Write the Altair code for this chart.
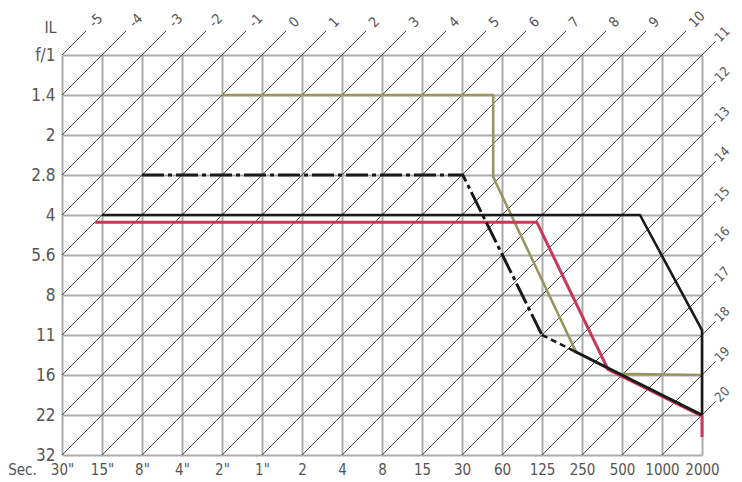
import altair as alt
import pandas as pd

# ---------------- data ----------------
shutter_labels = ['30"', '15"', '8"', '4"', '2"', '1"', '2', '4', '8', '15', '30',
                  '60', '125', '250', '500', '1000', '2000']
f_labels = ['f/1', '1.4', '2', '2.8', '4', '5.6', '8', '11', '16', '22', '32']
ev_values = list(range(-5, 21))

# program lines (x = shutter step index, y = aperture step index)
olive_x = [4, 10.78, 10.78, 12.85, 13.9, 16]
olive_y = [1, 1, 3.05, 7.42, 7.97, 8]
red_x = [0.83, 11.87, 13.65, 16, 16]
red_y = [4.18, 4.18, 7.86, 9.03, 9.55]
black_x = [1, 14.45, 16, 16]
black_y = [4, 4, 6.88, 9]
dashdot_x = [2, 10.02, 12]
dashdot_y = [3, 3, 7]
dashed_x = [12, 12.8]
dashed_y = [7, 7.4]
solid_x = [12.8, 16]
solid_y = [7.4, 9]

N_COLS = len(shutter_labels) - 1
N_ROWS = len(f_labels) - 1

# ---------------- EV diagonal lines ----------------
ev_rows, lab_rows = [], []
for ev in ev_values:
    s = ev + 5
    lx, ly = (0, s) if s <= N_ROWS else (s - N_ROWS, N_ROWS)
    ux, uy = (s, 0) if s <= N_COLS else (N_COLS, s - N_COLS)
    right_side = ux == N_COLS
    ext = 0.34 if right_side else 0.6
    lab = 0.38 if right_side else 0.74
    ev_rows.append({"ev": ev, "i": 0, "x": lx, "y": ly})
    ev_rows.append({"ev": ev, "i": 1, "x": ux + ext, "y": uy - ext})
    lab_rows.append({"ev": ev, "x": ux + lab, "y": uy - lab, "t": str(ev),
                     "fs": 13 if right_side else 14})
ev_df = pd.DataFrame(ev_rows)
lab_df = pd.DataFrame(lab_rows)


def path(xs, ys):
    return pd.DataFrame({"x": xs, "y": ys, "i": list(range(len(xs)))})


FONT = "Liberation Sans Narrow, DejaVu Sans Condensed, Roboto"
x_lab_expr = "[" + ",".join("'" + s.replace('"', '\\"') + "'" for s in shutter_labels) + "][datum.value]"
y_lab_expr = "[" + ",".join("'" + s + "'" for s in f_labels) + "][datum.value]"

x_enc = alt.X("x:Q", scale=alt.Scale(domain=[0, N_COLS], nice=False, zero=False),
              axis=alt.Axis(values=list(range(N_COLS + 1)), labelExpr=x_lab_expr,
                            grid=True, gridColor="#ababab", gridWidth=2, ticks=False,
                            domain=False, labelPadding=7, labelFontSize=15,
                            labelColor="#555555", labelFont=FONT, labelFlush=False,
                            labelOverlap=False, labelBound=False,
                            title="Sec.", titleX=-40, titleY=14, titleBaseline="middle",
                            titleAlign="center", titleFontSize=15, titleFontWeight="normal",
                            titleColor="#555555", titleFont=FONT))
y_enc = alt.Y("y:Q", scale=alt.Scale(domain=[0, N_ROWS], nice=False, zero=False, reverse=True),
              axis=alt.Axis(values=list(range(N_ROWS + 1)), labelExpr=y_lab_expr,
                            grid=True, gridColor="#ababab", gridWidth=2, ticks=False,
                            domain=False, labelPadding=7, labelFontSize=17,
                            labelColor="#555555", labelFont=FONT, labelFlush=False,
                            labelOverlap=False, labelBound=False,
                            title="IL", titleAngle=0, titleX=-12, titleY=-28,
                            titleAlign="center", titleBaseline="middle", titleFontSize=16,
                            titleFontWeight="normal", titleColor="#555555", titleFont=FONT))

ev_lines = alt.Chart(ev_df).mark_line(color="#333333", strokeWidth=0.9).encode(
    x=x_enc, y=y_enc, detail="ev:N", order="i:Q")

ev_labels = alt.Chart(lab_df).mark_text(angle=315, align="left", baseline="middle",
                                         font=FONT, color="#555555").encode(
    x=x_enc, y=y_enc, text="t:N", size=alt.Size("fs:Q", scale=None, legend=None))


def prog(xs, ys, color, width, dash=None):
    kw = dict(color=color, strokeWidth=width, strokeJoin="round", strokeCap="butt")
    if dash:
        kw["strokeDash"] = dash
    return alt.Chart(path(xs, ys)).mark_line(**kw).encode(x=x_enc, y=y_enc, order="i:Q")


chart = alt.layer(
    ev_lines,
    ev_labels,
    prog(olive_x, olive_y, "#9a955f", 2.6),
    prog(red_x, red_y, "#c8385a", 3),
    prog(black_x, black_y, "#1a1a1a", 2.6),
    prog(dashdot_x, dashdot_y, "#1a1a1a", 3, [22, 4, 4, 4]),
    prog(dashed_x, dashed_y, "#1a1a1a", 2.6, [6, 4]),
    prog(solid_x, solid_y, "#1a1a1a", 3),
).properties(
    width=640, height=400,
    autosize=alt.AutoSizeParams(type="none"),
    padding={"left": 54, "top": 47, "right": 32, "bottom": 26},
    background="white",
).configure_view(strokeWidth=0).configure_axis(labelOverlap=False, labelBound=False)

chart.save("out.html", embed_options={"renderer": "svg", "actions": False})
